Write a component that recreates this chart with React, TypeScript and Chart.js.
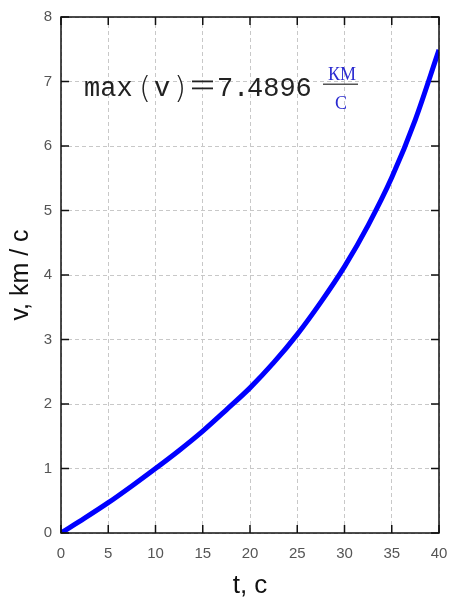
import { useEffect, useRef } from "react";
import { Chart, registerables } from "chart.js";

Chart.register(...registerables);

const timeSeconds = [0, 2.5, 5, 7.5, 10, 12.5, 15, 17.5, 20, 22.5, 25, 27.5, 30, 32.5, 35, 37.5, 40];
const velocityKmS = [0, 0.23, 0.47, 0.73, 1.0, 1.28, 1.58, 1.91, 2.25, 2.64, 3.08, 3.58, 4.13, 4.77, 5.51, 6.41, 7.49];
const xTicks = [0, 5, 10, 15, 20, 25, 30, 35, 40];
const yTicks = [0, 1, 2, 3, 4, 5, 6, 7, 8];
const maxLabel = "7.4896";

const framePlugin = {
  id: "frame",
  afterDraw(chart: any) {
    const { ctx, chartArea: a, scales } = chart;
    const xs = scales.x;
    const ys = scales.y;
    ctx.save();
    ctx.strokeStyle = "#111";
    ctx.lineWidth = 1.5;
    ctx.strokeRect(a.left, a.top, a.right - a.left, a.bottom - a.top);
    const tl = 8;
    ctx.beginPath();
    xTicks.forEach((v) => {
      const px = xs.getPixelForValue(v);
      ctx.moveTo(px, a.bottom);
      ctx.lineTo(px, a.bottom - tl);
      ctx.moveTo(px, a.top);
      ctx.lineTo(px, a.top + tl);
    });
    yTicks.forEach((v) => {
      const py = ys.getPixelForValue(v);
      ctx.moveTo(a.left, py);
      ctx.lineTo(a.left + tl, py);
      ctx.moveTo(a.right, py);
      ctx.lineTo(a.right - tl, py);
    });
    ctx.stroke();

    // annotation
    const L = a.left;
    const cy = ys.getPixelForValue(7) + 4;
    ctx.fillStyle = "#222";
    ctx.textBaseline = "alphabetic";
    ctx.textAlign = "left";
    const base = cy + 10;
    ctx.font = "27px 'Liberation Mono'";
    ctx.fillText("max", L + 23, base);
    ctx.font = "300 31px 'DejaVu Sans'";
    ctx.fillText("(", L + 78, base + 2);
    ctx.fillText(")", L + 113, base + 2);
    ctx.font = "27px 'Liberation Mono'";
    ctx.fillText("v", L + 93, base);
    ctx.fillRect(L + 131, cy - 5, 21, 1.8);
    ctx.fillRect(L + 131, cy + 2, 21, 1.8);
    ctx.fillText(maxLabel[0], L + 156, base);
    ctx.fillText(maxLabel[1], L + 172, base);
    ctx.fillText(maxLabel.slice(2), L + 186, base);
    ctx.fillStyle = "#555";
    ctx.fillRect(L + 262, cy - 2, 35, 1.5);
    ctx.fillStyle = "#2b2bd0";
    ctx.font = "18px 'Liberation Serif'";
    ctx.textAlign = "center";
    ctx.fillText("КМ", L + 281, cy - 6);
    ctx.fillText("С", L + 280, cy + 23);
    ctx.restore();
  },
};

export default function App() {
  const ref = useRef<HTMLCanvasElement>(null);
  useEffect(() => {
    document.body.style.margin = "0";
    const chart = new Chart(ref.current!, {
      type: "line",
      data: {
        datasets: [
          {
            data: timeSeconds.map((t, i) => ({ x: t, y: velocityKmS[i] })),
            borderColor: "#0000ff",
            borderWidth: 5,
            pointRadius: 0,
            cubicInterpolationMode: "monotone",
            fill: false,
          },
        ],
      },
      options: {
        animation: false,
        responsive: false,
        maintainAspectRatio: false,
        layout: { padding: { top: 17, right: 12, left: 0, bottom: 0 } },
        plugins: { legend: { display: false }, tooltip: { enabled: false } },
        scales: {
          x: {
            type: "linear",
            min: 0,
            max: 40,
            afterBuildTicks: (s: any) => {
              s.ticks = xTicks.map((v) => ({ value: v }));
            },
            afterFit: (s: any) => {
              s.height = 68;
              s.paddingLeft = 0;
              s.paddingRight = 0;
            },
            grid: { color: "#c8c8c8", lineWidth: 1, drawTicks: false },
            border: { display: false, dash: [4, 3] },
            ticks: {
              padding: 12,
              color: "#555",
              font: { family: "'Liberation Sans'", size: 15 },
            },
            title: {
              display: true,
              text: "t, c",
              color: "#111",
              padding: { top: 0, bottom: 0 },
              font: { family: "'Liberation Sans'", size: 26 },
            },
          },
          y: {
            type: "linear",
            min: 0,
            max: 8,
            afterBuildTicks: (s: any) => {
              s.ticks = yTicks.map((v) => ({ value: v }));
            },
            afterFit: (s: any) => {
              s.width = 61;
              s.paddingTop = 0;
              s.paddingBottom = 0;
            },
            grid: { color: "#c8c8c8", lineWidth: 1, drawTicks: false },
            border: { display: false, dash: [4, 3] },
            ticks: {
              padding: 9,
              color: "#555",
              font: { family: "'Liberation Sans'", size: 15 },
            },
            title: {
              display: true,
              text: "v, km / c",
              color: "#111",
              padding: { top: 6, bottom: 4 },
              font: { family: "'Liberation Sans'", size: 25 },
            },
          },
        },
      },
      plugins: [framePlugin],
    });
    return () => chart.destroy();
  }, []);
  return (
    <div style={{ width: 451, height: 601, background: "#fff" }}>
      <canvas ref={ref} width={451} height={601} style={{ display: "block" }} />
    </div>
  );
}
